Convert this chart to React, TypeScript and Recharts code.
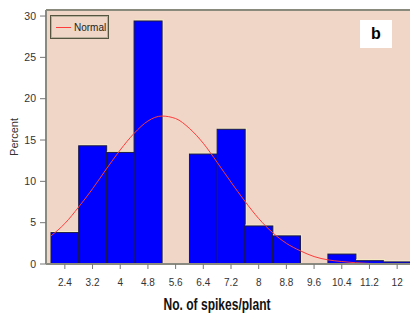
import React from "react";
import {
  ComposedChart,
  Bar,
  Line,
  XAxis,
  YAxis,
  CartesianGrid,
  Label,
} from "recharts";

// Histogram bins (bin centres) and percent of plants in each
const binLabels = ["2.4", "3.2", "4", "4.8", "5.6", "6.4", "7.2", "8", "8.8", "9.6", "10.4", "11.2", "12"];
const binPercent = [3.8, 14.3, 13.5, 29.4, 0, 13.3, 16.3, 4.6, 3.4, 0, 1.2, 0.4, 0.25];

// Fitted normal curve
const curveX = [2.0, 2.4, 2.8, 3.2, 3.6, 4.0, 4.4, 4.8, 5.2, 5.6, 6.0, 6.4, 6.8, 7.2, 7.6, 8.0, 8.4, 8.8, 9.2, 9.6, 10.0, 10.4, 10.8, 11.2, 11.6, 12.0, 12.4];
const curveY = [3.4, 4.9, 6.9, 9.1, 11.5, 13.8, 15.8, 17.3, 17.9, 17.6, 16.4, 14.6, 12.3, 9.9, 7.6, 5.5, 3.8, 2.5, 1.6, 0.9, 0.5, 0.3, 0.15, 0.07, 0.03, 0.01, 0.0];

const yTicks = [0, 5, 10, 15, 20, 25, 30];

const SANS = "'Liberation Sans', Arial, sans-serif";
const PLOT_BG = "#F0D6C6";

const barData = binLabels.map((bin, i) => ({ bin, pct: binPercent[i] }));
const curveData = curveX.map((x, i) => ({ x, y: curveY[i] }));

// blue bar with a dark outline and a pale highlight just up-right of it
const HistBar = (props: any) => {
  const { x, y, width, height } = props;
  if (!height || height <= 0) return null;
  return (
    <g>
      <rect x={x + 1} y={y - 1} width={width} height={height} fill="none" stroke="#F6EDC4" strokeWidth={1} />
      <rect x={x} y={y} width={width} height={height} fill="#0000FF" stroke="#1A1A40" strokeWidth={1} />
    </g>
  );
};

export default function App() {
  return (
    <div
      style={{
        position: "absolute",
        left: 0,
        top: 0,
        width: 410,
        height: 315,
        overflow: "hidden",
        background: "#fff",
      }}
    >
      <ComposedChart
        width={420}
        height={315}
        data={barData}
        margin={{ top: 10, right: 4, bottom: 0, left: 0 }}
        barCategoryGap={0}
        barGap={0}
      >
        <CartesianGrid fill={PLOT_BG} stroke="none" horizontal={false} vertical={false} />
        <XAxis
          xAxisId="bins"
          dataKey="bin"
          type="category"
          padding={{ left: 5, right: 5 }}
          height={51}
          tickSize={5}
          tickMargin={10}
          interval={0}
          axisLine={{ stroke: "#8A8A80", strokeWidth: 2 }}
          tickLine={{ stroke: "#777" }}
          tick={{ fontSize: 10, fill: "#333", fontFamily: SANS }}
        >
          <Label
            content={() => (
              <text
                x={217}
                y={310}
                textAnchor="middle"
                fontSize={17}
                fontWeight="bold"
                fontFamily={SANS}
                textLength={107}
                lengthAdjust="spacingAndGlyphs"
                fill="#111"
              >
                No. of spikes/plant
              </text>
            )}
          />
        </XAxis>
        <XAxis
          xAxisId="curve"
          dataKey="x"
          type="number"
          domain={[2.0, 12.4]}
          allowDataOverflow
          padding={{ left: 5, right: 5 }}
          hide
        />
        <YAxis
          width={46}
          domain={[0, 30.73]}
          ticks={yTicks}
          allowDataOverflow
          tickSize={6}
          tickMargin={4}
          axisLine={{ stroke: "#8A8A80", strokeWidth: 2 }}
          tickLine={{ stroke: "#777" }}
          tick={{ fontSize: 10.5, fill: "#333", fontFamily: SANS }}
        >
          <Label
            content={() => (
              <text
                x={14}
                y={137}
                transform="rotate(-90 14 137)"
                textAnchor="middle"
                dominantBaseline="central"
                fontSize={11}
                fontFamily={SANS}
                fill="#333"
              >
                Percent
              </text>
            )}
          />
        </YAxis>
        <Bar
          xAxisId="bins"
          dataKey="pct"
          shape={<HistBar />}
          isAnimationActive={false}
        />
        <Line
          xAxisId="curve"
          data={curveData}
          dataKey="y"
          type="monotone"
          stroke="#FF3B3B"
          strokeWidth={1}
          dot={false}
          isAnimationActive={false}
        />
      </ComposedChart>

      {/* top frame line */}
      <div style={{ position: "absolute", left: 46, top: 9, width: 370, height: 2, background: "#8A8A7C" }} />

      {/* legend */}
      <div
        style={{
          position: "absolute",
          left: 50,
          top: 15,
          width: 57,
          height: 22,
          border: "1px solid #55553F",
          boxShadow: "inset 0 0 0 1px #B8B09A",
          display: "flex",
          alignItems: "center",
          fontFamily: SANS,
          fontSize: 10,
          color: "#222",
        }}
      >
        <div style={{ width: 15, height: 1, background: "#FF3B3B", marginLeft: 5, marginRight: 3 }} />
        <span>Normal</span>
      </div>

      {/* panel letter */}
      <div
        style={{
          position: "absolute",
          left: 360,
          top: 20,
          width: 32,
          height: 28,
          background: "#fff",
          display: "flex",
          alignItems: "center",
          justifyContent: "center",
          fontFamily: SANS,
          fontWeight: "bold",
          fontSize: 16,
          color: "#000",
        }}
      >
        b
      </div>
    </div>
  );
}
